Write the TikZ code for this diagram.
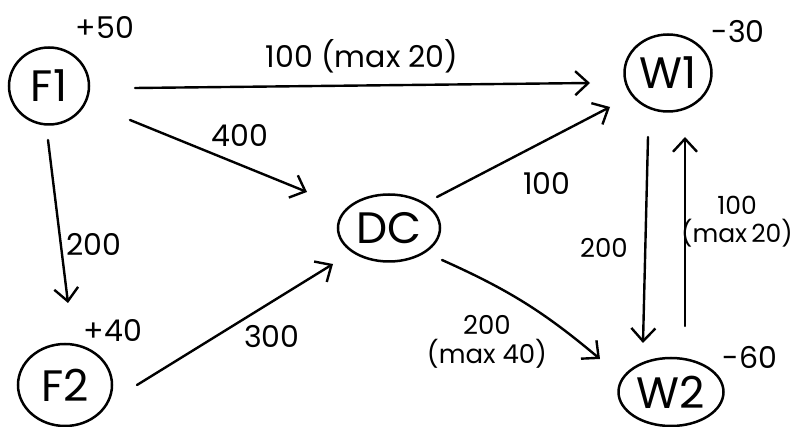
\documentclass[tikz,border=0pt]{standalone}
\usepackage{fontspec}
\setmainfont{Poppins}
\usetikzlibrary{arrows.meta,shapes.geometric}
\tikzset{
  site/.style={draw, ellipse, line width=2.5pt, inner sep=0pt,
               font=\fontsize{44}{48}\selectfont},
  flow/.style={line width=2.4pt, line cap=round,
               -{Straight Barb[length=13pt,width=24pt,line width=2.4pt]}},
  amount/.style={font=\fontsize{30}{34}\selectfont, inner sep=0pt},
  cap2/.style={font=\fontsize{26}{29}\selectfont, inner sep=0pt, align=center}
}
\begin{document}
\begin{tikzpicture}[x=1pt,y=-1pt]
\useasboundingbox (0,0) rectangle (796,427);

% sites
\node[site, minimum width=80pt, minimum height=77pt] (F1) at (49,86) {F1};
\node[site, minimum width=94pt, minimum height=82pt] (F2) at (65,385) {F2};
\node[site, minimum width=102pt, minimum height=67pt] (DC) at (389,228) {DC};
\node[site, minimum width=87pt, minimum height=77pt] (W1) at (668,73) {W1};
\node[site, minimum width=105pt, minimum height=68pt] (W2) at (671,392) {W2};

% supply and demand
\node[amount] (sF1) at (105,28) {+50};
\node[amount] (sF2) at (113,330) {+40};
\node[amount] (dW1) at (738,32) {-30};
\node[amount] (dW2) at (750,357) {-60};

% shipping lanes
\draw[flow] ([shift={(86,2)}]F1.center) -- ([shift={(-78,10)}]W1.center);
\draw[flow] ([shift={(81,34)}]F1.center) -- ([shift={(-82,-36)}]DC.center);
\draw[flow] ([shift={(-1,54)}]F1.center) -- ([shift={(3,-82)}]F2.center);
\draw[flow] ([shift={(72,0)}]F2.center) -- ([shift={(-56,36)}]DC.center);
\draw[flow] ([shift={(48,-31)}]DC.center) -- ([shift={(-58,34)}]W1.center);
\draw[flow] ([shift={(53,32)}]DC.center) to[bend left=8] ([shift={(-71,-33)}]W2.center);
\draw[flow] ([shift={(-20,64)}]W1.center) -- ([shift={(-28,-49)}]W2.center);
\draw[flow] ([shift={(14,-66)}]W2.center) -- ([shift={(17,64)}]W1.center);

% lane costs
\node[amount] (c1) at (362,56) {100 (max 20)};
\node[amount] (c2) at (240,135) {400};
\node[amount] (c3) at (94,244) {200};
\node[amount] (c4) at (272,337) {300};
\node[amount] (c5) at (547,183) {100};
\node[cap2] (c6) at (487,342) {200\\(max 40)};
\node[cap2] (c7) at (604,248) {200};
\node[cap2, font=\fontsize{25}{28}\selectfont] (c8) at (737,222) {100\\(max\,20)};
\end{tikzpicture}
\end{document}
